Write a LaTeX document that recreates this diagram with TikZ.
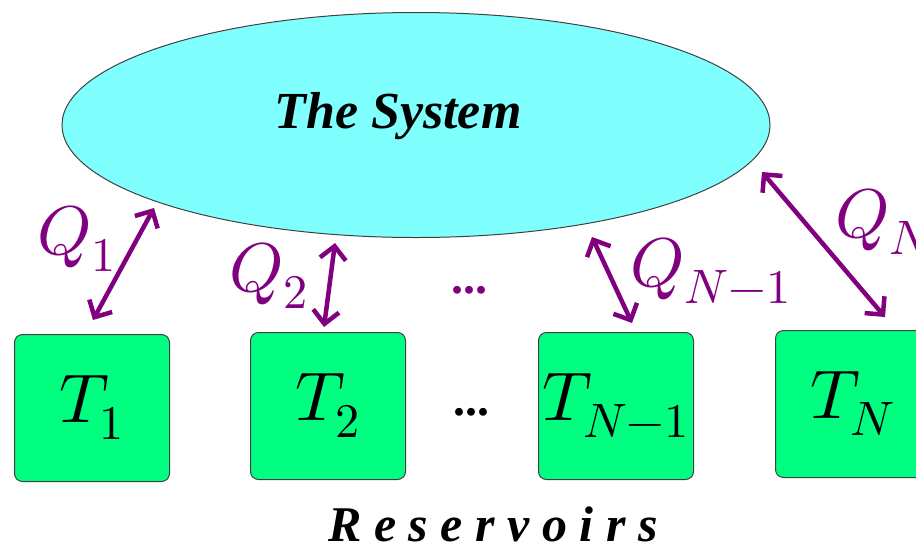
\documentclass[tikz,border=0pt]{standalone}
\usepackage{fontspec}
\usepackage{unicode-math}
\setmathfont{Latin Modern Math}
\newfontfamily\tnr{Liberation Serif}
\usetikzlibrary{shapes.geometric,arrows.meta}
\definecolor{sysfill}{RGB}{128,255,255}
\definecolor{resfill}{RGB}{0,255,128}
\definecolor{qcol}{RGB}{128,0,128}
\definecolor{edgecol}{RGB}{64,64,64}
\begin{document}
\begin{tikzpicture}[x=1pt,y=-1pt,
  resbox/.style={draw=edgecol,line width=1pt,fill=resfill,rounded corners=8pt,
    minimum width=155pt,minimum height=147pt,inner sep=0pt,
    font=\fontsize{69}{72}\selectfont},
  qarrow/.style={draw=qcol,line width=4.5pt,
    {Straight Barb[length=13pt,width=26pt]}-{Straight Barb[length=13pt,width=26pt]}},
  qlab/.style={text=qcol,font=\fontsize{69}{72}\selectfont,inner sep=0pt,anchor=base west},
  dots/.style={inner sep=0pt,anchor=base west,font={\tnr\bfseries\fontsize{48}{50}\selectfont}},
  bigtxt/.style={inner sep=0pt,anchor=base,font={\tnr\bfseries\itshape\fontsize{52}{56}\selectfont}}
  ]
\useasboundingbox (0,0) rectangle (916,542);
\clip (0,0) rectangle (916,542);
\node[ellipse,draw=edgecol,line width=1pt,fill=sysfill,minimum width=708pt,
  minimum height=225pt,inner sep=0pt] (sys) at (416,125) {};
\node[bigtxt] (systxt) at (398,128) {The System};

\node[resbox] (r1) at (92,408) {$T_1$};
\node[resbox] (r2) at (328,406) {$T_2$};
\node[resbox] (r3) at (616,406) {$T_{N-1}$};
\node[resbox] (r4) at (853,404) {$T_N$};

\coordinate (a1t) at (154,208);
\coordinate (a1b) at (93,320);
\coordinate (a2t) at (335,243);
\coordinate (a2b) at (324,327);
\coordinate (a3t) at (592,237);
\coordinate (a3b) at (632,323);
\coordinate (a4t) at (762,172);
\coordinate (a4b) at (885,317);
\draw[qarrow] (a1t) -- (a1b);
\draw[qarrow] (a2t) -- (a2b);
\draw[qarrow] (a3t) -- (a3b);
\draw[qarrow] (a4t) -- (a4b);

\node[qlab] (q1) at (37,254) {$Q_1$};
\node[qlab] (q2) at (229,291) {$Q_2$};
\node[qlab] (q3) at (630,286) {$Q_{N-1}$};
\node[qlab] (q4) at (835,237) {$Q_N$};

\node[dots,text=qcol] (d1) at (451,293) {...};
\node[dots] (d2) at (453,415) {...};

\node[bigtxt,font={\tnr\bfseries\itshape\fontsize{50}{54}\selectfont}] (res) at (493,541) {R e s e r v o i r s};
\end{tikzpicture}
\end{document}
